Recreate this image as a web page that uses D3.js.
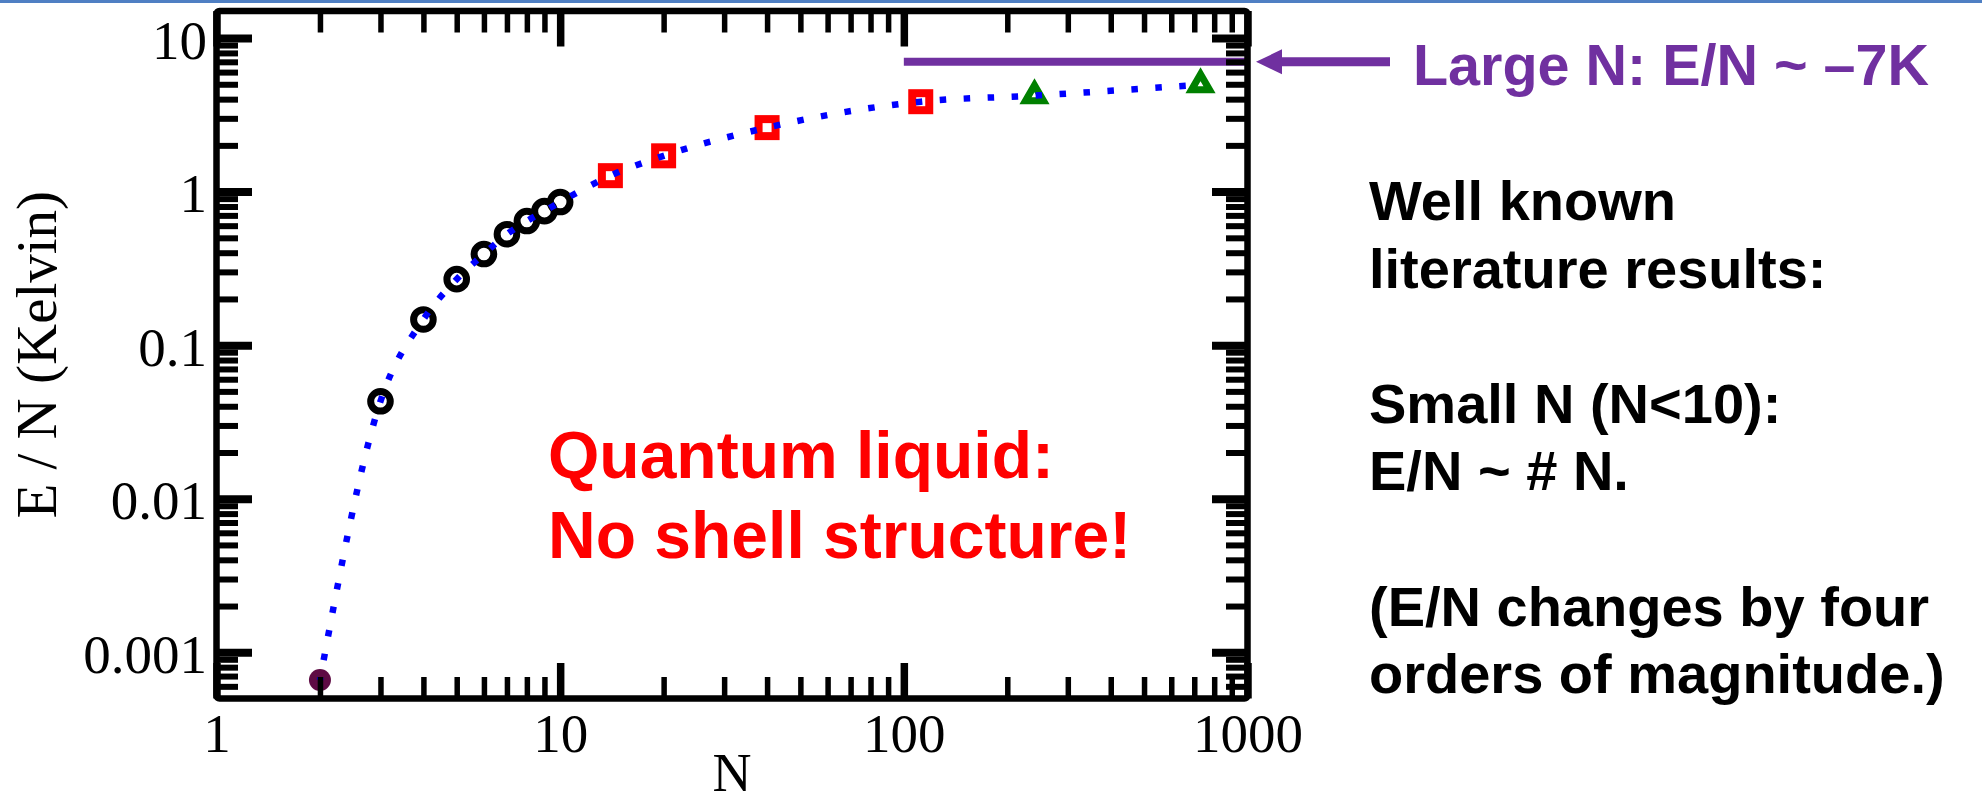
<!DOCTYPE html>
<html>
<head>
<meta charset="utf-8">
<script src="https://cdn.jsdelivr.net/npm/d3@7"></script>
<style>
  html, body { margin: 0; padding: 0; background: #fff; overflow: hidden; }
  svg { display: block; }
</style>
</head>
<body>
<svg id="chart" width="1982" height="804"></svg>
<script>
// Energy per particle of helium clusters versus cluster size N (log-log)
const dimerN = [2];
const dimerE = [0.00066];
const circleN = [3, 4, 5, 6, 7, 8, 9, 10];
const circleE = [0.0431, 0.147, 0.269, 0.392, 0.528, 0.643, 0.746, 0.855];
const squareN = [14, 20, 40, 112];
const squareE = [1.27, 1.71, 2.61, 3.85];
const triangleN = [240, 730];
const triangleE = [4.22, 4.97];
const bulkN = [100, 1000];
const bulkE = [7, 7];

const xMajorTicks = [1, 10, 100, 1000];
const xTickLabels = ["1", "10", "100", "1000"];
const yMajorTicks = [0.001, 0.01, 0.1, 1, 10];
const yTickLabels = ["0.001", "0.01", "0.1", "1", "10"];

const xTitle = "N";
const yTitle = "E / N (Kelvin)";
const bulkLabel = "Large N: E/N ~ \u20137K";
const liquidLines = ["Quantum liquid:", "No shell structure!"];
const noteLines = ["Well known", "literature results:", "", "Small N (N<10):", "E/N ~ # N.", "",
                   "(E/N changes by four", "orders of magnitude.)"];

const W = 1982, H = 804;
const frame = { left: 216.5, right: 1247.5, top: 11, bottom: 698.5 };
const serif = "'Liberation Serif', 'Times New Roman', serif";
const sans = "'Liberation Sans', Arial, sans-serif";
const purple = "#7030a0";

const svg = d3.select("#chart");

// slide accent line along the top edge
svg.append("rect").attr("x", 0).attr("y", 0).attr("width", W).attr("height", 3).attr("fill", "#4f7fc3");

const x = d3.scaleLog().domain([1, 1000]).range([frame.left, frame.right]);
const y = d3.scaleLog().domain([0.0005, 15]).range([frame.bottom, frame.top]);

// minor ticks: 2..9 within each decade, kept inside the frame
function minorTicks(decades, lo, hi) {
  const out = [];
  decades.forEach(d => { for (let k = 2; k <= 9; k++) { const v = k * d; if (v > lo && v < hi) out.push(v); } });
  return out;
}
const xMinor = minorTicks([1, 10, 100], 1, 1000);
const yMinor = minorTicks([0.0001, 0.001, 0.01, 0.1, 1, 10], 0.0005, 15);

// bulk limit line
svg.append("line")
  .attr("x1", x(bulkN[0])).attr("x2", x(bulkN[1]))
  .attr("y1", y(bulkE[0])).attr("y2", y(bulkE[1]))
  .attr("stroke", purple).attr("stroke-width", 8);

const plot = svg.append("g");

// open circles (small clusters)
plot.selectAll("circle.small")
  .data(circleN.map((n, i) => [n, circleE[i]]))
  .join("circle")
  .attr("class", "small")
  .attr("cx", d => x(d[0])).attr("cy", d => y(d[1]))
  .attr("r", 9.8)
  .attr("fill", "none").attr("stroke", "#000").attr("stroke-width", 7);

// open squares
const sq = 17;
plot.selectAll("rect.mid")
  .data(squareN.map((n, i) => [n, squareE[i]]))
  .join("rect")
  .attr("class", "mid")
  .attr("x", d => x(d[0]) - sq / 2).attr("y", d => y(d[1]) - sq / 2)
  .attr("width", sq).attr("height", sq)
  .attr("fill", "none").attr("stroke", "#ff0000").attr("stroke-width", 8);

// open triangles
const tri = 18, R = tri / Math.sqrt(3);
plot.selectAll("path.large")
  .data(triangleN.map((n, i) => [n, triangleE[i]]))
  .join("path")
  .attr("class", "large")
  .attr("transform", d => `translate(${x(d[0])},${y(d[1])})`)
  .attr("d", `M0,${-R}L${tri / 2},${R / 2}L${-tri / 2},${R / 2}Z`)
  .attr("fill", "none").attr("stroke", "#008000").attr("stroke-width", 7)
  .attr("stroke-linejoin", "miter");

// dimer
plot.selectAll("circle.dimer")
  .data(dimerN.map((n, i) => [n, dimerE[i]]))
  .join("circle")
  .attr("class", "dimer")
  .attr("cx", d => x(d[0])).attr("cy", d => y(d[1]))
  .attr("r", 11).attr("fill", "#5e0b44");

// dotted guide through all points
const allPts = [].concat(
  dimerN.map((n, i) => [n, dimerE[i]]),
  circleN.map((n, i) => [n, circleE[i]]),
  squareN.map((n, i) => [n, squareE[i]]),
  triangleN.map((n, i) => [n, triangleE[i]])
);
plot.append("path")
  .datum(allPts)
  .attr("d", d3.line().x(d => x(d[0])).y(d => y(d[1])).curve(d3.curveMonotoneX))
  .attr("fill", "none").attr("stroke", "#0000ff").attr("stroke-width", 6.5)
  .attr("stroke-dasharray", "6.5 17.5").attr("stroke-dashoffset", -20);

// axes: ticks point inward on all four sides
const majorLen = 35.5, minorLen = 21.5, pad = 9.5;
function styleTicks(g, width) {
  g.select(".domain").remove();
  g.selectAll(".tick line").attr("stroke", "#000").attr("stroke-width", width);
}
svg.append("g").attr("transform", `translate(0,${frame.bottom})`)
  .call(d3.axisBottom(x).tickValues(xMinor).tickSizeInner(-minorLen).tickFormat(""))
  .call(g => styleTicks(g, 5.5));
svg.append("g").attr("transform", `translate(0,${frame.top})`)
  .call(d3.axisTop(x).tickValues(xMinor).tickSizeInner(-minorLen).tickFormat(""))
  .call(g => styleTicks(g, 5.5));
svg.append("g").attr("transform", `translate(${frame.left},0)`)
  .call(d3.axisLeft(y).tickValues(yMinor).tickSizeInner(-minorLen).tickFormat(""))
  .call(g => styleTicks(g, 6));
svg.append("g").attr("transform", `translate(${frame.right},0)`)
  .call(d3.axisRight(y).tickValues(yMinor).tickSizeInner(-minorLen).tickFormat(""))
  .call(g => styleTicks(g, 6));

const xAxis = svg.append("g").attr("transform", `translate(0,${frame.bottom})`)
  .call(d3.axisBottom(x).tickValues(xMajorTicks).tickSizeInner(-majorLen).tickPadding(14.5)
    .tickFormat((d, i) => xTickLabels[i]))
  .call(g => styleTicks(g, 7.5));
svg.append("g").attr("transform", `translate(0,${frame.top})`)
  .call(d3.axisTop(x).tickValues(xMajorTicks).tickSizeInner(-majorLen).tickFormat(""))
  .call(g => styleTicks(g, 7.5));
const yAxis = svg.append("g").attr("transform", `translate(${frame.left},0)`)
  .call(d3.axisLeft(y).tickValues(yMajorTicks).tickSizeInner(-majorLen).tickPadding(pad)
    .tickFormat((d, i) => yTickLabels[i]))
  .call(g => styleTicks(g, 8));
svg.append("g").attr("transform", `translate(${frame.right},0)`)
  .call(d3.axisRight(y).tickValues(yMajorTicks).tickSizeInner(-majorLen).tickFormat(""))
  .call(g => styleTicks(g, 8));

xAxis.selectAll(".tick text")
  .attr("font-family", serif).attr("font-size", 55).attr("fill", "#000");
yAxis.selectAll(".tick text")
  .attr("font-family", serif).attr("font-size", 55).attr("fill", "#000").attr("dy", "0.364em");

// frame
svg.append("rect")
  .attr("x", frame.left).attr("y", frame.top)
  .attr("width", frame.right - frame.left).attr("height", frame.bottom - frame.top)
  .attr("rx", 3).attr("fill", "none").attr("stroke", "#000").attr("stroke-width", 6.5);

// axis titles
svg.append("text")
  .attr("x", (frame.left + frame.right) / 2).attr("y", 791)
  .attr("text-anchor", "middle").attr("font-family", serif).attr("font-size", 54)
  .text(xTitle);
svg.append("text")
  .attr("transform", `translate(56,${(frame.top + frame.bottom) / 2}) rotate(-90)`)
  .attr("text-anchor", "middle").attr("font-family", serif).attr("font-size", 57)
  .text(yTitle);

// in-plot annotation
svg.append("g").selectAll("text")
  .data(liquidLines)
  .join("text")
  .attr("x", 548).attr("y", (d, i) => 478 + i * 80)
  .attr("font-family", sans).attr("font-weight", "bold").attr("font-size", 66)
  .attr("fill", "#ff0000")
  .text(d => d);

// arrow pointing at the bulk line
const ay = y(bulkE[0]);
svg.append("path")
  .attr("d", `M1256,${ay} L1282,${ay - 12.5} L1282,${ay - 4.5} L1390,${ay - 4.5} L1390,${ay + 4.5} L1282,${ay + 4.5} L1282,${ay + 12.5} Z`)
  .attr("fill", purple);
svg.append("text")
  .attr("x", 1413).attr("y", 85)
  .attr("font-family", sans).attr("font-weight", "bold").attr("font-size", 57.5)
  .attr("fill", purple)
  .text(bulkLabel);

// side notes
svg.append("g").selectAll("text")
  .data(noteLines)
  .join("text")
  .attr("x", 1369).attr("y", (d, i) => 220 + i * 67.6)
  .attr("font-family", sans).attr("font-weight", "bold").attr("font-size", 56)
  .attr("fill", "#000")
  .text(d => d);
</script>
</body>
</html>
